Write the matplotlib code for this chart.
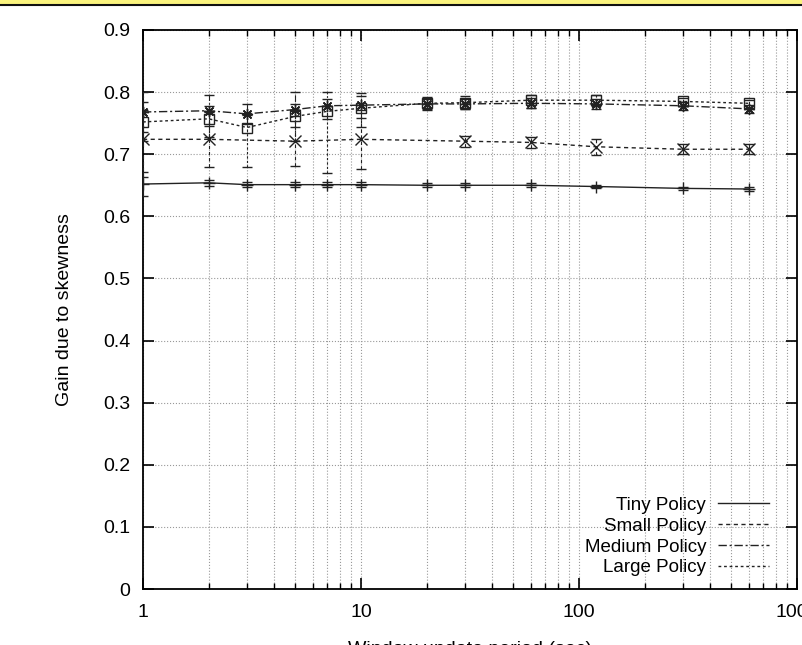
import matplotlib
matplotlib.use('Agg')
import matplotlib.pyplot as plt
from matplotlib.lines import Line2D
from matplotlib.patches import Rectangle
from matplotlib.ticker import LogLocator, NullFormatter, FixedLocator

plt.rcParams['font.family'] = ['Liberation Sans', 'DejaVu Sans']

# window update period (sec)
x_all = [1, 2, 3, 5, 7, 10, 20, 30, 60, 120, 300, 600]
x_small = [1, 2, 5, 10, 30, 60, 120, 300, 600]

tiny = [0.652, 0.654, 0.651, 0.651, 0.651, 0.651, 0.650, 0.650, 0.650, 0.648, 0.645, 0.644]
tiny_err = [0.019, 0.005, 0.004, 0.004, 0.004, 0.004, 0.003, 0.003, 0.003, 0.003, 0.003, 0.003]

small = [0.724, 0.724, 0.721, 0.724, 0.721, 0.719, 0.712, 0.708, 0.708]
small_err = [0.06, 0.044, 0.04, 0.048, 0.009, 0.009, 0.013, 0.008, 0.008]

medium = [0.768, 0.770, 0.765, 0.772, 0.778, 0.779, 0.781, 0.781, 0.782, 0.781, 0.778, 0.773]
medium_err = [0.032, 0.025, 0.016, 0.028, 0.022, 0.02, 0.008, 0.008, 0.008, 0.008, 0.006, 0.006]

large = [0.752, 0.757, 0.743, 0.761, 0.769, 0.774, 0.782, 0.783, 0.787, 0.787, 0.785, 0.782]
large_lo = [0.03, 0.03, 0.063, 0.04, 0.10, 0.03, 0.01, 0.01, 0.012, 0.01, 0.008, 0.008]
large_hi = [0.02, 0.02, 0.02, 0.02, 0.02, 0.02, 0.01, 0.01, 0.008, 0.008, 0.006, 0.006]

labels = ['Tiny Policy', 'Small Policy', 'Medium Policy', 'Large Policy']
styles = ['-', (0, (3, 2.5)), (0, (6, 2, 1.5, 2)), (0, (2, 2))]
markers = ['+', 'x', (8, 2, 0), 's']
ink = '#222222'

fig = plt.figure(figsize=(8.02, 6.45), dpi=100)
ax = fig.add_axes([143 / 802, 56 / 645, 654 / 802, 559 / 645])

series = [
    (x_all, tiny, tiny_err),
    (x_small, small, small_err),
    (x_all, medium, medium_err),
    (x_all, large, [large_lo, large_hi]),
]
for (xs, ys, err), ls, mk in zip(series, styles, markers):
    line, caps, bars = ax.errorbar(xs, ys, yerr=err, color=ink, lw=1.0, ls=ls,
                                   marker=mk, ms=8 if mk != 's' else 7,
                                   mfc='none', mew=1.0, capsize=3.5,
                                   elinewidth=0.8, zorder=3)
    for b in bars:
        b.set_linestyle(ls)

ax.set_xscale('log')
ax.set_xlim(1, 1000)
ax.set_ylim(0, 0.9)
ax.yaxis.set_major_locator(FixedLocator([i / 10 for i in range(10)]))
ax.set_yticklabels(['0'] + ['%.1f' % (i / 10) for i in range(1, 10)])
ax.xaxis.set_major_locator(FixedLocator([1, 10, 100, 1000]))
ax.set_xticklabels(['1', '10', '100', '1000'])
ax.xaxis.set_minor_locator(LogLocator(base=10, subs=range(2, 10)))
ax.xaxis.set_minor_formatter(NullFormatter())

ax.grid(True, which='major', axis='both', ls=':', color='#999999', lw=0.8)
ax.grid(True, which='minor', axis='x', ls=':', color='#999999', lw=0.8)
ax.set_axisbelow(True)

ax.tick_params(which='both', direction='in', top=True, right=True, labelsize=14)
ax.tick_params(which='major', length=8, width=1.2)
ax.tick_params(which='minor', length=4.5, width=1.0)
ax.tick_params(axis='y', pad=9)
ax.tick_params(axis='x', pad=11)
for s in ax.spines.values():
    s.set_linewidth(1.3)

ax.set_xlabel('Window update period (sec)', fontsize=14)
ax.xaxis.set_label_coords(0.5, -0.093)
ax.xaxis.label.set_va('top')
ax.set_ylabel('Gain due to skewness', fontsize=14)
ax.yaxis.set_label_coords(-0.107, 0.5)

handles = [Line2D([], [], color=ink, lw=1.0, ls=ls) for ls in styles]
ax.legend(handles, labels, loc='lower right', bbox_to_anchor=(0.977, -0.001),
          frameon=False, markerfirst=False, fontsize=13.5, handlelength=2.7,
          handletextpad=0.65, labelspacing=0.2, borderaxespad=0.3)

# header strip at the top of the page
fig.patches.append(Rectangle((0, 1 - 3.5 / 645), 1, 3.5 / 645, transform=fig.transFigure,
                             facecolor='#fbf47e', edgecolor='none'))
fig.add_artist(Line2D([0, 1], [1 - 4.5 / 645] * 2, transform=fig.transFigure,
                      color='#111111', lw=1.5))

fig.savefig('out.png', dpi=100)
